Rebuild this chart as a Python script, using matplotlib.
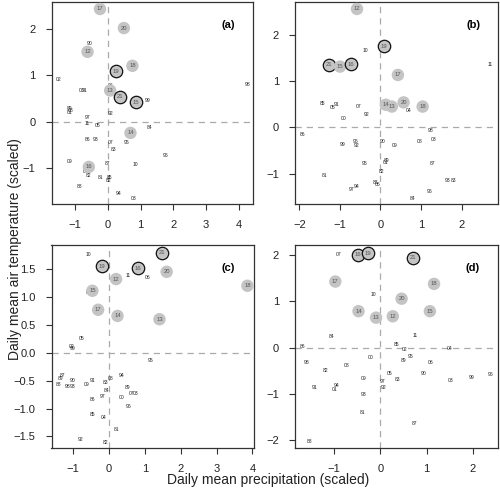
import matplotlib
matplotlib.use("Agg")
import matplotlib.pyplot as plt

plt.rcParams['font.family'] = ['Liberation Sans', 'DejaVu Sans']

# ---- data : small year labels (81-11) and grey circles (12-21) ----
# panel (a)
a_lab = ["90", "02", "98", "00", "91", "06", "99", "89", "08", "01", "97", "92", "11", "05", "84",
         "86", "93", "07", "95", "83", "96", "09", "87", "10", "04", "82", "81", "85", "82", "88", "94", "03"]
a_x = [-0.57, -1.50, 4.26, -0.80, -0.70, 0.08, 1.20, -1.16, -1.14, -1.17, -0.63, 0.09, -0.63, -0.30, 1.28,
       -0.62, -0.37, 0.08, 0.57, 0.18, 1.75, -1.18, -0.02, 0.83, -0.69, -0.59, -0.21, 0.06, 0.02, -0.86, 0.33, 0.79]
a_y = [1.67, 0.90, 0.80, 0.68, 0.68, 0.77, 0.46, 0.29, 0.24, 0.19, 0.09, 0.17, -0.04, -0.09, -0.12,
       -0.38, -0.38, -0.44, -0.44, -0.59, -0.73, -0.86, -0.90, -0.92, -1.06, -1.15, -1.20, -1.19, -1.27, -1.39, -1.55, -1.65]
a_big = ["17", "20", "12", "18", "19", "13", "21", "15", "14", "16"]
a_bx = [-0.24, 0.49, -0.62, 0.75, 0.24, 0.07, 0.37, 0.85, 0.69, -0.58]
a_by = [2.42, 2.01, 1.50, 1.20, 1.08, 0.67, 0.54, 0.42, -0.24, -0.97]
a_ring = ["19", "21", "15"]

# panel (b)
b_lab = ["10", "11", "85", "91", "05", "07", "04", "92", "00", "86", "98", "03", "99", "96", "92", "90",
         "09", "08", "95", "89", "01", "87", "82", "81", "93", "83", "97", "94", "88", "06", "96", "84"]
b_x = [-0.38, 2.71, -1.43, -1.09, -1.19, -0.54, 0.69, -0.34, -0.91, -1.93, 1.24, 1.30, -0.93, -0.62, -0.58, 0.06,
       0.35, 0.97, -0.39, 0.16, 0.12, 1.29, 0.02, -1.39, 1.66, 1.80, -0.72, -0.58, -0.12, -0.07, 1.20, 0.80]
b_y = [1.65, 1.35, 0.52, 0.50, 0.44, 0.45, 0.36, 0.27, 0.20, -0.15, -0.06, -0.25, -0.37, -0.30, -0.38, -0.31,
       -0.38, -0.30, -0.77, -0.72, -0.75, -0.77, -0.94, -1.04, -1.15, -1.15, -1.33, -1.28, -1.19, -1.22, -1.38, -1.52]
b_big = ["12", "19", "21", "15", "16", "17", "14", "13", "20", "18"]
b_bx = [-0.58, 0.09, -1.27, -1.00, -0.72, 0.43, 0.13, 0.28, 0.57, 1.04]
b_by = [2.55, 1.75, 1.35, 1.31, 1.36, 1.13, 0.49, 0.45, 0.54, 0.45]
b_ring = ["19", "21", "16"]

# panel (c)
c_lab = ["10", "11", "06", "01", "05", "02", "99", "95", "87", "89", "88", "90", "98", "93", "09", "91",
         "83", "08", "94", "84", "97", "89", "07", "03", "00", "86", "96", "85", "04", "81", "92", "82"]
c_x = [-0.58, 0.54, 1.08, -0.56, -0.75, -1.04, -1.00, 1.15, -1.29, -1.35, -1.40, -1.02, -1.16, -1.00, -0.61, -0.46,
       -0.10, 0.06, 0.36, -0.06, -0.17, 0.52, 0.62, 0.74, 0.35, -0.47, 0.55, -0.47, -0.16, 0.20, -0.79, -0.09]
c_y = [1.76, 1.39, 1.34, 1.08, 0.26, 0.12, 0.07, -0.14, -0.41, -0.47, -0.57, -0.50, -0.61, -0.61, -0.57, -0.50,
       -0.53, -0.46, -0.41, -0.67, -0.79, -0.63, -0.73, -0.73, -0.81, -0.83, -0.97, -1.10, -1.16, -1.37, -1.56, -1.60]
c_big = ["19", "21", "16", "20", "12", "18", "15", "17", "14", "13"]
c_bx = [-0.20, 1.48, 0.80, 1.61, 0.20, 3.86, -0.46, -0.30, 0.24, 1.41]
c_by = [1.55, 1.79, 1.51, 1.45, 1.32, 1.20, 1.11, 0.77, 0.66, 0.60]
c_ring = ["19", "21", "16"]

# panel (d)
d_lab = ["07", "10", "84", "11", "86", "85", "02", "04", "00", "95", "89", "98", "82", "08", "06", "05",
         "90", "96", "99", "03", "09", "97", "83", "92", "91", "94", "01", "93", "81", "87", "88"]
d_x = [-0.89, -0.15, -1.06, 0.76, -1.68, 0.34, 0.52, 1.49, -0.20, 0.66, 0.51, -1.58, -1.19, -0.73, 1.09, 0.21,
       0.93, 2.38, 1.97, 1.51, -0.37, 0.05, 0.37, 0.07, -1.41, -0.94, -0.98, -0.35, -0.38, 0.74, -1.52]
d_y = [2.02, 1.15, 0.25, 0.27, 0.02, 0.06, -0.03, -0.01, -0.20, -0.19, -0.28, -0.32, -0.49, -0.38, -0.32, -0.55,
       -0.55, -0.57, -0.65, -0.70, -0.67, -0.72, -0.68, -0.86, -0.86, -0.81, -0.90, -1.01, -1.39, -1.64, -2.03]
d_big = ["16", "19", "21", "17", "18", "20", "14", "13", "12", "15"]
d_bx = [-0.49, -0.27, 0.71, -0.97, 1.16, 0.46, -0.47, -0.09, 0.27, 1.07]
d_by = [2.01, 2.04, 1.94, 1.43, 1.38, 1.06, 0.79, 0.65, 0.68, 0.79]
d_ring = ["16", "19", "21"]

panels = [
    ("(a)", a_lab, a_x, a_y, a_big, a_bx, a_by, a_ring, (-1.72, 4.43), (-1.77, 2.57), [-1, 0, 1, 2, 3, 4], [-1, 0, 1, 2], "%d"),
    ("(b)", b_lab, b_x, b_y, b_big, b_bx, b_by, b_ring, (-2.11, 2.90), (-1.65, 2.70), [-2, -1, 0, 1, 2], [-1, 0, 1, 2], "%d"),
    ("(c)", c_lab, c_x, c_y, c_big, c_bx, c_by, c_ring, (-1.60, 4.03), (-1.71, 1.93), [-1, 0, 1, 2, 3, 4],
     [-1.5, -1.0, -0.5, 0.0, 0.5, 1.0, 1.5], "%.1f"),
    ("(d)", d_lab, d_x, d_y, d_big, d_bx, d_by, d_ring, (-1.84, 2.54), (-2.16, 2.22), [-1, 0, 1, 2], [-2, -1, 0, 1, 2], "%d"),
]

# axes boxes (left, bottom, width, height) in figure fraction
boxes = [(0.103, 0.590, 0.403, 0.406), (0.590, 0.590, 0.406, 0.406),
         (0.103, 0.100, 0.404, 0.408), (0.590, 0.101, 0.406, 0.407)]

fig = plt.figure(figsize=(5, 4.98), dpi=100)
for box, p in zip(boxes, panels):
    name, lab, x, y, big, bx, by, ring, xl, yl, xt, yt, fmt = p
    ax = fig.add_axes(box)
    ax.axvline(0, color='#aaaaaa', lw=0.9, ls=(0, (5, 4)), zorder=0)
    ax.axhline(0, color='#aaaaaa', lw=0.9, ls=(0, (5, 4)), zorder=0)
    for t, xx, yy in zip(lab, x, y):
        ax.text(xx, yy, t, fontsize=3.6, color='#222222', ha='center', va='center')
    for t, xx, yy in zip(big, bx, by):
        edge = '#111111' if t in ring else 'none'
        ax.scatter([xx], [yy], s=80, color='#c4c4c4', edgecolors=edge, linewidths=0.9, zorder=3)
        ax.text(xx, yy, t, fontsize=4.2, color='#555555', ha='center', va='center', zorder=4)
    ax.set_xlim(*xl)
    ax.set_ylim(*yl)
    ax.set_xticks(xt)
    ax.set_yticks(yt)
    ax.set_xticklabels([("%d" % v).replace('-', '\u2212') for v in xt])
    ax.set_yticklabels([(fmt % v).replace('-', '\u2212') for v in yt])
    ax.tick_params(length=4.5, width=0.8, color='#333333', labelsize=8, labelcolor='#222222', pad=7)
    for s in ax.spines.values():
        s.set_color('#333333')
        s.set_linewidth(0.9)
    ax.text(0.877, 0.885, name, transform=ax.transAxes, fontsize=8, fontweight='bold',
            ha='center', va='center')

fig.text(0.536, 0.036, "Daily mean precipitation (scaled)", fontsize=10, ha='center', va='center', color='#222222')
fig.text(0.03, 0.5, "Daily mean air temperature (scaled)", fontsize=10, rotation=90,
         ha='center', va='center', color='#222222')

fig.savefig("out.png", dpi=100)
